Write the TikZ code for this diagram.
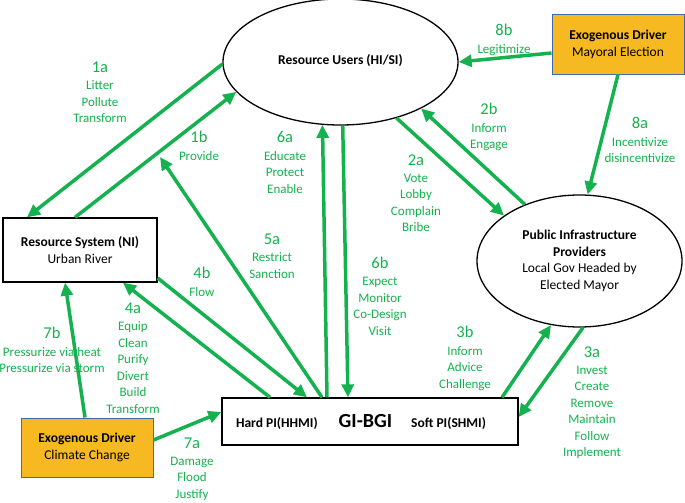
\documentclass[tikz,border=0pt]{standalone}
\usepackage{fontspec}
\setmainfont{Carlito}
\usetikzlibrary{arrows.meta,positioning,shapes.geometric}
\definecolor{arrowgreen}{RGB}{20,178,78}
\definecolor{drivergold}{RGB}{246,185,34}
\definecolor{driverblue}{RGB}{68,104,168}

\begin{document}
\begin{tikzpicture}[x=1pt,y=-1pt]
                        \tikzset{Oval/.style={%
                                shape=ellipse,%
                                draw=black,%
                                line width=1.3pt,%
                                inner sep=0pt,%
                                align=center,%
                                font=\fontsize{13.5}{16.5}\selectfont,%
                            },
                            Box/.style={%
                                shape=rectangle,%
                                draw=black,%
                                line width=1.3pt,%
                                inner sep=0pt,%
                                align=center,%
                                font=\fontsize{13.5}{16.5}\selectfont,%
                            },
                            Driver/.style={Box, fill=drivergold, draw=driverblue, line width=1pt},
                            Link/.style={-{Triangle[length=13pt,width=12pt]}, draw=arrowgreen, line width=3.5pt},
                            Num/.style={text=arrowgreen, inner sep=0pt, font=\fontsize{16.5}{16.5}\selectfont},
                            Verb/.style={text=arrowgreen, inner sep=0pt, align=center, font=\fontsize{13}{16.5}\selectfont},
                            }

                            \useasboundingbox (0,0) rectangle (685,503);

                            \node[Oval, minimum width=235pt, minimum height=126pt] (RU) at (340.5,62) {\raisebox{5pt}{\textbf{Resource Users (HI/SI)}}};
                            \node[Oval, minimum width=205pt, minimum height=132pt] (PIP) at (579.5,261) {\textbf{Public Infrastructure}\\\textbf{Providers}\\Local Gov Headed by\\Elected Mayor};
                            \node[Box, minimum width=154pt, minimum height=64pt] (RS) at (80,250) {\textbf{Resource System (NI)}\\Urban River};
                            \node[Driver, minimum width=132pt, minimum height=59pt] (ME) at (618,44.5) {\textbf{Exogenous Driver}\\Mayoral Election};
                            \node[Driver, minimum width=132pt, minimum height=59pt] (CC) at (87,447.5) {\textbf{Exogenous Driver}\\Climate Change};
                            \node[Box, minimum width=296pt, minimum height=47pt] (GI) at (370,421.5) {\textbf{Hard PI(HHMI)}\hspace{21pt}{\fontsize{20}{20}\selectfont\bfseries GI-BGI}\hspace{19pt}\textbf{Soft PI(SHMI)}\hspace{18pt}};
                            \coordinate (T5a) at (160,157);

                            \node[Num] (n1a) at (100,67) {1a};
                            \node[Verb, below=8pt of n1a] (w1a) {Litter\\Pollute\\Transform};
                            \node[Num] (n1b) at (199,137) {1b};
                            \node[Verb, below=8pt of n1b] (w1b) {Provide};
                            \node[Num] (n6a) at (285,137) {6a};
                            \node[Verb, below=8pt of n6a] (w6a) {Educate\\Protect\\Enable};
                            \node[Num] (n5a) at (272,239) {5a};
                            \node[Verb, below=8pt of n5a] (w5a) {Restrict\\Sanction};
                            \node[Num] (n4b) at (202,273) {4b};
                            \node[Verb, below=8pt of n4b] (w4b) {Flow};
                            \node[Num] (n4a) at (133,308) {4a};
                            \node[Verb, below=8pt of n4a] (w4a) {Equip\\Clean\\Purify\\Divert\\Build\\Transform};
                            \node[Num] (n7b) at (52,333) {7b};
                            \node[Verb, below=8pt of n7b] (w7b) {Pressurize via heat\\Pressurize via storm};
                            \node[Num] (n7a) at (192,443) {7a};
                            \node[Verb, below=8pt of n7a] (w7a) {Damage\\Flood\\Justify};
                            \node[Num] (n6b) at (380,263) {6b};
                            \node[Verb, below=8pt of n6b] (w6b) {Expect\\Monitor\\Co-Design\\Visit};
                            \node[Num] (n2a) at (416,160) {2a};
                            \node[Verb, below=8pt of n2a] (w2a) {Vote\\Lobby\\Complain\\Bribe};
                            \node[Num] (n2b) at (489,109) {2b};
                            \node[Verb, below=8pt of n2b] (w2b) {Inform\\Engage};
                            \node[Num] (n8b) at (504,30) {8b};
                            \node[Verb, below=8pt of n8b] (w8b) {Legitimize};
                            \node[Num] (n8a) at (640,123) {8a};
                            \node[Verb, below=8pt of n8a] (w8a) {Incentivize\\disincentivize};
                            \node[Num] (n3b) at (465,332) {3b};
                            \node[Verb, below=8pt of n3b] (w3b) {Inform\\Advice\\Challenge};
                            \node[Num] (n3a) at (592,352) {3a};
                            \node[Verb, below=8pt of n3a] (w3a) {Invest\\Create\\Remove\\Maintain\\Follow\\Implement};

                            \path (RU.181) edge[Link] ([xshift=-53pt]RS.north);
                            \path ([xshift=-5pt]RS.north) edge[Link] (RU.196);
                            \path ([xshift=-48pt]GI.north) edge[Link] (T5a);
                            \path ([xshift=-43pt]GI.north) edge[Link] (RU.254);
                            \path (RU.272) edge[Link] ([xshift=-22pt]GI.north);
                            \path (RU.315) edge[Link] (PIP.149);
                            \path (PIP.134) edge[Link] (RU.330);
                            \path ([yshift=-8.5pt]ME.west) edge[Link] (RU.0);
                            \path (ME.south) edge[Link] (PIP.83);
                            \path ([xshift=132pt]GI.north) edge[Link] (PIP.246);
                            \path (PIP.273) edge[Link] ([yshift=4.5pt]GI.east);
                            \path ([yshift=-28pt]RS.east) edge[Link] ([xshift=-63pt]GI.north);
                            \path ([xshift=-100pt]GI.north) edge[Link] ([xshift=43pt]RS.south);
                            \path ([xshift=-2pt]CC.north) edge[Link] ([xshift=-15pt]RS.south);
                            \path ([yshift=7.5pt]CC.east) edge[Link] ([yshift=9.5pt]GI.west);
\end{tikzpicture}
\end{document}
